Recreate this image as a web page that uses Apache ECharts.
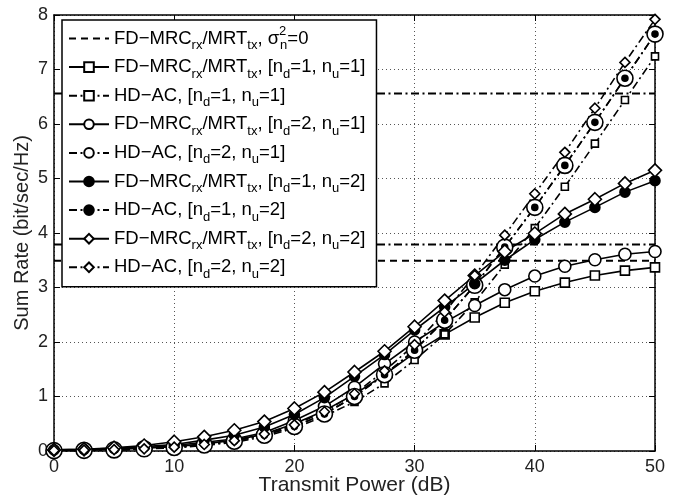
<!DOCTYPE html>
<html><head><meta charset="utf-8">
<script src="https://cdn.jsdelivr.net/npm/echarts@6/dist/echarts.min.js"></script>
<style>html,body{margin:0;padding:0;background:#fff}#c{width:676px;height:495px}</style>
</head><body><div id="c"></div>
<script>
// ---- data ----
const power = [0,2.5,5,7.5,10,12.5,15,17.5,20,22.5,25,27.5,30,32.5,35,37.5,40,42.5,45,47.5,50];
const fd11 = [0.01,0.015,0.03,0.05,0.08,0.13,0.2,0.31,0.5,0.74,1.04,1.4,1.8,2.14,2.45,2.72,2.93,3.09,3.22,3.31,3.37];
const hd11 = [0.005,0.01,0.02,0.035,0.06,0.1,0.16,0.26,0.42,0.64,0.9,1.24,1.67,2.14,2.73,3.42,4.09,4.85,5.64,6.44,7.24];
const fd21 = [0.01,0.02,0.04,0.06,0.1,0.16,0.22,0.34,0.56,0.82,1.17,1.6,2.0,2.36,2.67,2.96,3.21,3.39,3.51,3.61,3.66];
const hd21 = [0.007,0.012,0.02,0.04,0.065,0.11,0.18,0.29,0.45,0.68,1.0,1.4,1.85,2.4,3.04,3.74,4.47,5.24,6.03,6.84,7.65];
const fd12 = [0.02,0.03,0.05,0.08,0.12,0.2,0.29,0.44,0.67,0.98,1.37,1.77,2.22,2.64,3.07,3.5,3.88,4.2,4.47,4.75,4.96];
const hd12 = [0.007,0.012,0.02,0.04,0.065,0.11,0.18,0.29,0.45,0.68,1.0,1.4,1.85,2.4,3.04,3.74,4.47,5.24,6.03,6.84,7.65];
const fd22 = [0.02,0.03,0.06,0.1,0.17,0.26,0.38,0.54,0.78,1.08,1.45,1.83,2.28,2.76,3.22,3.66,3.99,4.35,4.62,4.91,5.15];
const hd22 = [0.01,0.015,0.025,0.04,0.07,0.12,0.19,0.31,0.48,0.72,1.05,1.47,1.95,2.55,3.22,3.96,4.72,5.48,6.29,7.13,7.92];
const limitNoise = 3.49;   // FD, sigma_n^2 = 0 (dashed)
const limitA = 3.79;       // dash-dot limit
const limitB = 6.56;       // dash-dot limit
const xTicks = [0,10,20,30,40,50];
const yTicks = [0,1,2,3,4,5,6,7,8];

// ---- build ----
const pairs = arr => power.map((p,i)=>[p,arr[i]]);
const DASHDOT = [8,3.5,2,3.5];
const FONT = '"Liberation Sans", Arial, Helvetica, sans-serif';

function mk(name, data, symbol, size, fill, lineType, extra) {
  return Object.assign({
    name, type:'line', data: pairs(data), symbol, symbolSize: size,
    showAllSymbol: true, animation:false,
    lineStyle:{color:'#000', width:1.6, type: lineType},
    itemStyle:{color: fill, borderColor:'#000', borderWidth:1.6},
    emphasis:{disabled:true}, z: 3
  }, extra||{});
}
function hline(name, v, type) {
  return {name, type:'line', data:[[0,v],[50,v]], symbol:'none', animation:false,
    lineStyle:{color:'#000', width:2, type}, emphasis:{disabled:true}, z:2};
}

const labels = {
  'fd0':  '{t|FD−MRC}{s|rx}{t|/MRT}{s|tx}{t|, σ}{p|2}{s|n}{t|=0}',
  'fd11': '{t|FD−MRC}{s|rx}{t|/MRT}{s|tx}{t|, [n}{s|d}{t|=1, n}{s|u}{t|=1]}',
  'hd11': '{t|HD−AC, [n}{s|d}{t|=1, n}{s|u}{t|=1]}',
  'fd21': '{t|FD−MRC}{s|rx}{t|/MRT}{s|tx}{t|, [n}{s|d}{t|=2, n}{s|u}{t|=1]}',
  'hd21': '{t|HD−AC, [n}{s|d}{t|=2, n}{s|u}{t|=1]}',
  'fd12': '{t|FD−MRC}{s|rx}{t|/MRT}{s|tx}{t|, [n}{s|d}{t|=1, n}{s|u}{t|=2]}',
  'hd12': '{t|HD−AC, [n}{s|d}{t|=1, n}{s|u}{t|=2]}',
  'fd22': '{t|FD−MRC}{s|rx}{t|/MRT}{s|tx}{t|, [n}{s|d}{t|=2, n}{s|u}{t|=2]}',
  'hd22': '{t|HD−AC, [n}{s|d}{t|=2, n}{s|u}{t|=2]}'
};

const series = [
  hline('fd0', limitNoise, [7,5]),
  hline('limA', limitA, DASHDOT),
  hline('limB', limitB, DASHDOT),
  mk('fd11', fd11, 'rect', 9, '#fff', 'solid'),
  mk('hd11', hd11, 'rect', 7, '#fff', DASHDOT),
  mk('fd21', fd21, 'circle', 12, '#fff', 'solid'),
  mk('hd21', hd21, 'circle', 16, '#fff', DASHDOT),
  mk('fd12', fd12, 'circle', 10, '#000', 'solid'),
  mk('hd12', hd12, 'circle', 6, '#000', DASHDOT),
  mk('fd22', fd22, 'diamond', 13, '#fff', 'solid'),
  mk('hd22', hd22, 'diamond', 10, '#fff', DASHDOT)
];

const axisCommon = {
  axisLine:{show:true, onZero:false, lineStyle:{color:'#000', width:1.5}},
  axisTick:{show:true, inside:true, length:6, lineStyle:{color:'#000', width:1}},
};

const chart = echarts.init(document.getElementById('c'), null, {renderer:'canvas'});
chart.setOption({
  backgroundColor:'#fff',
  animation:false,
  textStyle:{fontFamily:FONT},
  grid:{left:54, right:21, top:15, bottom:44, containLabel:false, outerBoundsMode:'none'},
  xAxis:[
    Object.assign({type:'value', min:0, max:50, interval:10, position:'bottom',
      name:'Transmit Power (dB)', nameLocation:'middle', nameGap:24, nameMoveOverlap:false,
      nameTextStyle:{fontSize:21, color:'#222', fontFamily:FONT},
      axisLabel:{fontSize:18, color:'#222', margin:7, fontFamily:FONT,
        formatter: v => xTicks.includes(v) ? String(v) : ''},
      splitLine:{show:true, lineStyle:{color:'#555', width:1, type:[1,3]}}}, axisCommon),
    Object.assign({type:'value', min:0, max:50, interval:10, position:'top',
      axisLabel:{show:false}, splitLine:{show:false}}, axisCommon)
  ],
  yAxis:[
    Object.assign({type:'value', min:0, max:8, interval:1, position:'left',
      name:'Sum Rate (bit/sec/Hz)', nameLocation:'middle', nameGap:22, nameRotate:90, nameMoveOverlap:false,
      nameTextStyle:{fontSize:20, color:'#222', fontFamily:FONT},
      axisLabel:{fontSize:18, color:'#222', margin:6, fontFamily:FONT,
        formatter: v => yTicks.includes(v) ? String(v) : ''},
      splitLine:{show:true, lineStyle:{color:'#555', width:1, type:[1,3]}}}, axisCommon),
    Object.assign({type:'value', min:0, max:8, interval:1, position:'right',
      axisLabel:{show:false}, splitLine:{show:false}}, axisCommon)
  ],
  legend:{
    orient:'vertical', left:62, top:20,
    data:[
      {name:'fd0', itemStyle:{color:'rgba(0,0,0,0)', borderColor:'rgba(0,0,0,0)', borderWidth:0}},
      'fd11','hd11','fd21','hd21','fd12','hd12','fd22','hd22'],
    itemWidth:40, itemHeight:12, itemGap:1.6,
    padding:[5,11,6,6],
    backgroundColor:'#fff', borderColor:'#000', borderWidth:1.5,
    selectedMode:false,
    formatter: n => labels[n],
    textStyle:{
      color:'#000', fontFamily:FONT,
      rich:{
        t:{fontSize:18.5, lineHeight:24, fontFamily:FONT, color:'#000'},
        s:{fontSize:13, lineHeight:10, padding:[14,0,0,0], fontFamily:FONT, color:'#000'},
        p:{fontSize:13, lineHeight:10, padding:[0,0,14,0], width:1, fontFamily:FONT, color:'#000'}
      }
    },
    z: 10
  },
  series
});
</script></body></html>
